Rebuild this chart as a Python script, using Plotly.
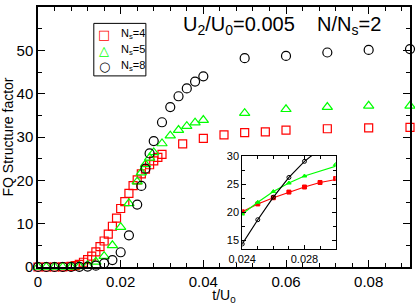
import plotly.graph_objects as go

# ---- data ----
x_ns4 = [0.0, 0.002, 0.004, 0.006, 0.008, 0.009, 0.010, 0.011, 0.012, 0.013, 0.014, 0.015,
         0.016, 0.017, 0.018, 0.019, 0.020, 0.021, 0.022, 0.023, 0.024, 0.025, 0.026, 0.027,
         0.028, 0.029, 0.030, 0.035, 0.040, 0.045, 0.050, 0.055, 0.060, 0.070, 0.080, 0.090]
y_ns4 = [0.0, 0.0, 0.0, 0.05, 0.15, 0.3, 0.6, 1.1, 1.7, 2.5, 3.5, 4.7,
         6.0, 7.6, 9.4, 11.3, 13.5, 15.1, 17.0, 18.8, 20.1, 21.5, 22.6, 23.6,
         24.5, 25.3, 26.0, 28.4, 29.7, 30.5, 31.0, 31.2, 31.6, 31.9, 32.1, 32.2]

x_ns5 = [0.0, 0.002, 0.004, 0.006, 0.008, 0.010, 0.012, 0.014, 0.016, 0.018, 0.020, 0.022,
         0.024, 0.025, 0.026, 0.027, 0.028, 0.030, 0.032, 0.034, 0.036, 0.038, 0.040,
         0.050, 0.060, 0.070, 0.080, 0.090]
y_ns5 = [0.0, 0.0, 0.0, 0.0, 0.05, 0.15, 0.4, 1.2, 2.5, 5.0, 9.2, 14.7,
         19.7, 21.8, 23.7, 25.2, 26.45, 28.5, 30.3, 31.6, 32.5, 33.3, 33.9,
         35.5, 36.4, 36.9, 37.2, 37.2]

x_ns8 = [0.0, 0.002, 0.004, 0.006, 0.008, 0.010, 0.012, 0.014, 0.016, 0.018, 0.020, 0.022,
         0.024, 0.025, 0.026, 0.027, 0.028, 0.030, 0.032, 0.034, 0.036, 0.038, 0.040,
         0.050, 0.060, 0.070, 0.080, 0.090]
y_ns8 = [0.0, 0.0, 0.0, 0.0, 0.0, 0.05, 0.1, 0.3, 0.85, 1.6, 3.4, 7.3,
         14.4, 18.7, 22.7, 26.2, 29.05, 33.4, 36.9, 39.4, 41.2, 42.8, 44.0,
         48.2, 48.7, 49.5, 50.1, 50.3]

labels = ["N<sub>s</sub>=4", "N<sub>s</sub>=5", "N<sub>s</sub>=8"]
legend_glyphs = ["\u25A1", "\u25B3", "\u25CB"]
x_ticks_inset = [0.024, 0.028]
y_ticks_inset = [15, 20, 25, 30]

RED = "#ff0000"
GREEN = "#00ff00"
BLACK = "#000000"
FONT = "Liberation Sans, Arial, sans-serif"

series = [
    (x_ns4, y_ns4, labels[0], "square-open", RED, 8),
    (x_ns5, y_ns5, labels[1], "triangle-up-open", GREEN, 9),
    (x_ns8, y_ns8, labels[2], "circle-open", BLACK, 9),
]

fig = go.Figure()
for xs, ys, name, sym, col, sz in series:
    fig.add_trace(go.Scatter(
        x=xs, y=ys, mode="markers", name=name, showlegend=False,
        marker=dict(symbol=sym, size=sz, color=col, line=dict(width=1.2, color=col)),
        xaxis="x", yaxis="y", cliponaxis=False))

# inset: lines + small markers
inset_sym = ["square", "triangle-up", "circle-open"]
for (xs, ys, name, sym, col, sz), isym in zip(series, inset_sym):
    fig.add_trace(go.Scatter(
        x=xs, y=ys, mode="lines+markers", showlegend=False,
        line=dict(color=col, width=1.2),
        marker=dict(symbol=isym, size=4, color=col, line=dict(width=1, color=col)),
        xaxis="x2", yaxis="y2"))

axis_common = dict(showgrid=False, zeroline=False, showline=True, linecolor="black",
                   linewidth=1.5, mirror="allticks", ticks="inside", tickcolor="black",
                   tickwidth=1, automargin=False,
                   tickfont=dict(family=FONT, size=15, color="black"))
inset_common = dict(showgrid=False, zeroline=False, showline=True, linecolor="black", linewidth=1,
                    mirror="allticks", ticks="inside", tickcolor="black", automargin=False,
                    tickfont=dict(family=FONT, size=11, color="black"))

fig.update_layout(
    width=415, height=305,
    margin=dict(l=38, r=5, t=7, b=38, autoexpand=False),
    paper_bgcolor="white", plot_bgcolor="white",
    font=dict(family=FONT, color="black"),
    xaxis=dict(range=[0, 0.09], dtick=0.02, tick0=0, ticklen=7,
               tickformat="~g",
               minor=dict(dtick=0.004, ticks="inside", ticklen=4, tickcolor="black"),
               title=dict(text="t/U<sub>0</sub>", font=dict(family=FONT, size=14), standoff=2),
               **axis_common),
    yaxis=dict(range=[0, 60], dtick=10, ticklen=7,
               minor=dict(dtick=5, ticks="inside", ticklen=4, tickcolor="black"),
               title=dict(text="FQ Structure factor", font=dict(family=FONT, size=14), standoff=4),
               **axis_common),
    xaxis2=dict(domain=[0.549, 0.800], anchor="y2", range=[0.024, 0.030],
                tickvals=x_ticks_inset, ticktext=[f"{v:.3f}" for v in x_ticks_inset],
                ticklen=4, minor=dict(dtick=0.001, ticks="inside", ticklen=3, tickcolor="black"),
                **inset_common),
    yaxis2=dict(domain=[0.069, 0.427], anchor="x2", range=[13.5, 30],
                tickvals=y_ticks_inset, ticklen=4,
                minor=dict(dtick=2.5, ticks="inside", ticklen=3, tickcolor="black"),
                **inset_common),
    showlegend=False,
)

# manual legend box (paper coords)
fig.add_shape(type="rect", xref="paper", yref="paper",
              x0=0.150, x1=0.290, y0=0.735, y1=0.937,
              line=dict(color="black", width=1), fillcolor="white", layer="above")
colors = [RED, GREEN, BLACK]
for i, (g, lab, col) in enumerate(zip(legend_glyphs, labels, colors)):
    yy = 0.896 - i * 0.0615
    fig.add_annotation(x=0.178, y=yy, xref="paper", yref="paper", text=g, showarrow=False,
                       xanchor="center", yanchor="middle",
                       font=dict(family="DejaVu Sans", size=13, color=col))
    fig.add_annotation(x=0.218, y=yy, xref="paper", yref="paper", text=lab, showarrow=False,
                       xanchor="left", yanchor="middle",
                       font=dict(family=FONT, size=11, color="black"))

fig.add_annotation(
    x=0.385, y=0.93, xref="paper", yref="paper", xanchor="left", yanchor="middle",
    text="U<sub>2</sub>/U<sub>0</sub>=0.005    N/N<sub>s</sub>=2",
    showarrow=False, font=dict(family=FONT, size=20, color="black"))

fig.write_html("out.html", config={"displayModeBar": False})
with open("out.html", "r", encoding="utf-8") as f:
    html = f.read()
html = html.replace("<head>", "<head><style>html,body{margin:0;padding:0;overflow:hidden}</style>", 1)
with open("out.html", "w", encoding="utf-8") as f:
    f.write(html)
